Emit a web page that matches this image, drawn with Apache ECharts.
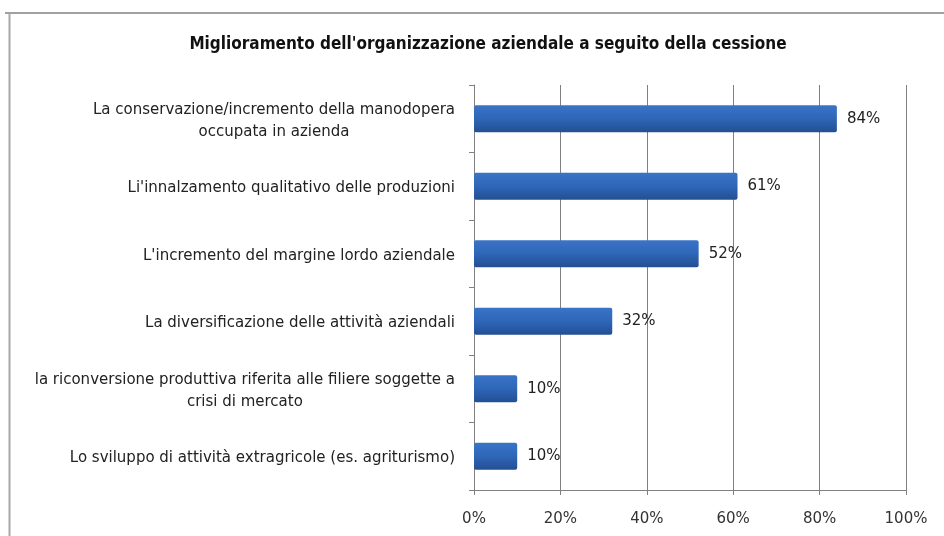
<!DOCTYPE html>
<html>
<head>
<meta charset="utf-8">
<script src="https://cdn.jsdelivr.net/npm/echarts@6/dist/echarts.min.js"></script>
<style>
  html, body { margin: 0; padding: 0; background: #ffffff; }
  #chart { width: 944px; height: 536px; }
</style>
</head>
<body>
<div id="chart"></div>
<script>
// Survey categories (top to bottom) and their percentages
const categories = [
  "La conservazione/incremento della manodopera\noccupata in azienda",
  "Li'innalzamento qualitativo delle produzioni",
  "L'incremento del margine lordo aziendale",
  "La diversificazione delle attività aziendali",
  "la riconversione produttiva riferita alle filiere soggette a\ncrisi di mercato",
  "Lo sviluppo di attività extragricole (es. agriturismo)"
];
const values = [84, 61, 52, 32, 10, 10];
const xTicks = [0, 20, 40, 60, 80, 100];
const titleText = "Miglioramento dell'organizzazione aziendale a seguito della cessione";

const chart = echarts.init(document.getElementById('chart'), null, { renderer: 'canvas' });

const labelFont = "'DejaVu Sans', Verdana, sans-serif";

chart.setOption({
  backgroundColor: '#ffffff',
  animation: false,
  title: {
    text: titleText,
    left: 483,
    textAlign: 'center',
    top: 31,
    textStyle: {
      fontFamily: "'DejaVu Sans Condensed', 'DejaVu Sans', sans-serif",
      fontWeight: 'bold',
      fontSize: 17,
      color: '#111111'
    }
  },
  graphic: [
    { type: 'line', shape: { x1: 5, y1: 13, x2: 944, y2: 13 }, style: { stroke: '#a0a0a0', lineWidth: 2 } },
    { type: 'line', shape: { x1: 9.5, y1: 13, x2: 9.5, y2: 536 }, style: { stroke: '#a8a8a8', lineWidth: 2 } }
  ],
  grid: { left: 474, right: 38, top: 85, bottom: 46, containLabel: false },
  xAxis: {
    type: 'value',
    min: xTicks[0],
    max: xTicks[xTicks.length - 1],
    interval: xTicks[1] - xTicks[0],
    axisLine: { show: true, lineStyle: { color: '#808080', width: 1 } },
    axisTick: { show: true, length: 5, lineStyle: { color: '#808080' } },
    splitLine: { show: true, lineStyle: { color: '#808080', width: 1 } },
    axisLabel: {
      formatter: '{value}%',
      margin: 22,
      fontFamily: labelFont,
      fontSize: 15,
      color: '#333333'
    }
  },
  yAxis: {
    type: 'category',
    data: categories,
    inverse: true,
    axisLine: { show: true, lineStyle: { color: '#808080', width: 1 } },
    axisTick: { show: true, length: 5, inside: false, lineStyle: { color: '#808080' } },
    axisLabel: {
      margin: 19,
      align: 'right',
      // each line is centred within the label block
      formatter: function (v) {
        return v.split('\n').map(function (line) { return '{c|' + line + '}'; }).join('\n');
      },
      rich: {
        c: {
          align: 'center',
          fontFamily: labelFont,
          fontSize: 15,
          lineHeight: 22,
          padding: [4, 0, 0, 0],
          color: '#222222'
        }
      }
    }
  },
  series: [{
    type: 'bar',
    data: values,
    barWidth: '40%',
    itemStyle: {
      color: new echarts.graphic.LinearGradient(0, 0, 0, 1, [
        { offset: 0, color: '#3a74c6' },
        { offset: 0.5, color: '#2e66b8' },
        { offset: 1, color: '#234f92' }
      ]),
      borderRadius: 2
    },
    label: {
      show: true,
      position: 'right',
      distance: 10,
      formatter: '{c}%',
      fontFamily: labelFont,
      fontSize: 15,
      color: '#222222'
    }
  }]
});
</script>
</body>
</html>
